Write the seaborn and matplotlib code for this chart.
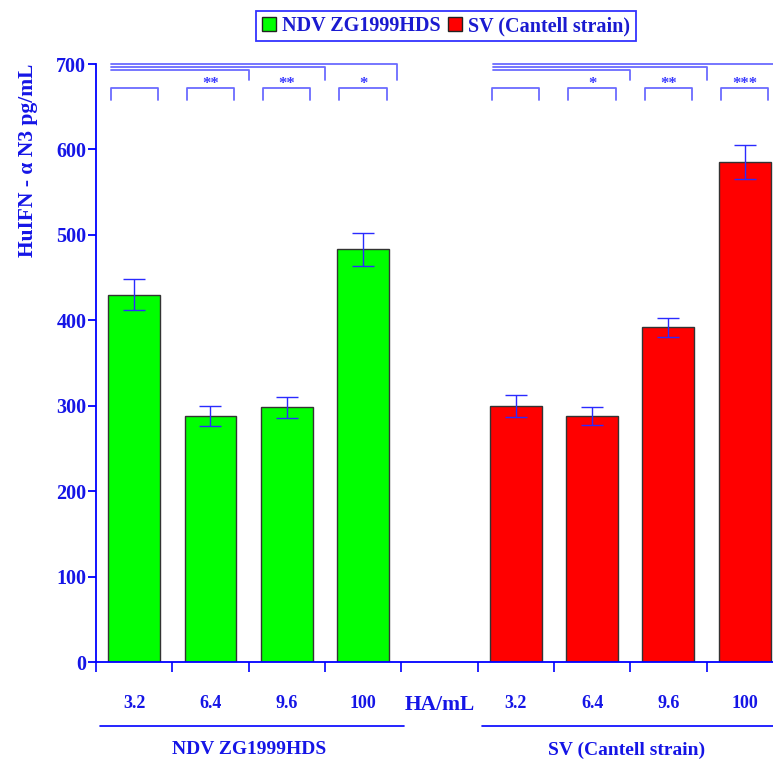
import pandas as pd
import seaborn as sns
import matplotlib.pyplot as plt
import numpy as np
from matplotlib.patches import Patch

# data
concs = ['3.2', '6.4', '9.6', '100']
ndv_vals = [430, 288, 298, 483]
ndv_err = [18, 12, 12, 19]
sv_vals = [300, 288, 392, 585]
sv_err = [13, 10, 11, 20]
ndv_stars = ['', '**', '**', '*']
sv_stars = ['', '*', '**', '***']
groups = ['NDV ZG1999HDS', 'SV (Cantell strain)']
colors = {'NDV ZG1999HDS': '#00ff00', 'SV (Cantell strain)': '#ff0000'}

order = ['NDV ' + c for c in concs] + ['HA/mL'] + ['SV ' + c for c in concs]
tick_labels = concs + ['HA/mL'] + concs

df = pd.DataFrame({
    'slot': ['NDV ' + c for c in concs] + ['SV ' + c for c in concs],
    'group': [groups[0]] * 4 + [groups[1]] * 4,
    'value': ndv_vals + sv_vals,
    'err': ndv_err + sv_err,
})
df['pos'] = [order.index(s) for s in df['slot']]

sns.set_theme(style='white')
plt.rcParams['font.family'] = ['Liberation Serif', 'DejaVu Serif']

BLUE = '#0000ff'
TXT = '#1515e6'
BR = '#6b6bff'

fig = plt.figure(figsize=(7.73, 7.61), dpi=100)
ax = fig.add_axes([96 / 773, 99 / 761, 677 / 773, 598 / 761])

sns.barplot(data=df, x='slot', y='value', hue='group', order=order, palette=colors,
            dodge=False, width=0.68, edgecolor='#333333', linewidth=1, saturation=1,
            errorbar=None, legend=False, ax=ax)
ax.errorbar(df['pos'], df['value'], yerr=df['err'], fmt='none', ecolor='#2a2aff',
            elinewidth=1, capsize=8, capthick=1)

ax.set_xlim(-0.5, 8.37)
ax.set_ylim(0, 700)
ax.set_xlabel('')
ax.set_ylabel('')
for s in ['top', 'right']:
    ax.spines[s].set_visible(False)
for s in ['left', 'bottom']:
    ax.spines[s].set_color(BLUE)
    ax.spines[s].set_linewidth(1.3)

ax.set_yticks(range(0, 701, 100))
ax.tick_params(axis='y', direction='out', length=6, width=1.3, color=BLUE,
               labelcolor=TXT, labelsize=14.5, pad=1, left=True)
for t in ax.get_yticklabels():
    t.set_fontweight('bold')

ax.set_xticks(range(9))
ax.set_xticklabels(tick_labels)
ax.set_xticks(np.arange(-0.5, 8, 1), minor=True)
ax.tick_params(axis='x', which='major', length=0, pad=24, labelcolor=TXT, labelsize=13)
ax.tick_params(axis='x', which='minor', direction='out', length=7, width=1.2,
               color=BLUE, bottom=True)
for i, t in enumerate(ax.get_xticklabels()):
    t.set_fontweight('bold')
    if i == 4:
        t.set_fontsize(15.5)

# significance brackets
hw = 0.31
for base, stars in [(0, ndv_stars), (5, sv_stars)]:
    for i in range(4):
        x = base + i
        ax.plot([x - hw, x - hw, x + hw, x + hw], [658, 672, 672, 658],
                color=BR, lw=1.3, clip_on=False)
        if stars[i]:
            ax.text(x, 677, stars[i], ha='center', va='center', color='#3a3aff',
                    fontsize=12, fontweight='bold')
    left = base - 0.31 + 0.01
    ends = [base + 1.5, base + 2.5, base + 3.45]
    ys = [693, 696.5, 700]
    for k, (xe, yl) in enumerate(zip(ends, ys)):
        if base == 5 and k == 2:
            ax.plot([left, 8.37], [yl, yl], color=BR, lw=1.3, clip_on=False)
        else:
            ax.plot([left, xe, xe], [yl, yl, 681], color=BR, lw=1.3, clip_on=False)

# group underlines and names
ax.plot([-0.45, 3.53], [-75, -75], color=BLUE, lw=1.2, clip_on=False)
ax.plot([4.56, 8.37], [-75, -75], color=BLUE, lw=1.2, clip_on=False)
ax.text(1.5, -103, groups[0], ha='center', va='center', color=TXT,
        fontsize=14, fontweight='bold')
ax.text(6.45, -103, groups[1], ha='center', va='center', color=TXT,
        fontsize=14, fontweight='bold')

fig.text(28 / 773, 1 - 160 / 761, 'HuIFN - α N3 pg/mL', rotation=90,
         ha='center', va='center', color=TXT, fontsize=15.5, fontweight='bold')

handles = [Patch(facecolor=colors[g], edgecolor='#222222', lw=1) for g in groups]
leg = fig.legend(handles, groups, loc='upper center', bbox_to_anchor=(446 / 773, 1 - 11 / 761),
                 ncol=2, frameon=True, fancybox=False,
                 prop={'size': 14.5, 'weight': 'bold'},
                 handlelength=0.7, handleheight=0.7, handletextpad=0.3,
                 columnspacing=0.4, borderpad=0.25, borderaxespad=0)
leg.get_frame().set_edgecolor(BLUE)
leg.get_frame().set_linewidth(1.3)
for t in leg.get_texts():
    t.set_color('#1a1ad0')

fig.savefig('out.png', dpi=100)
